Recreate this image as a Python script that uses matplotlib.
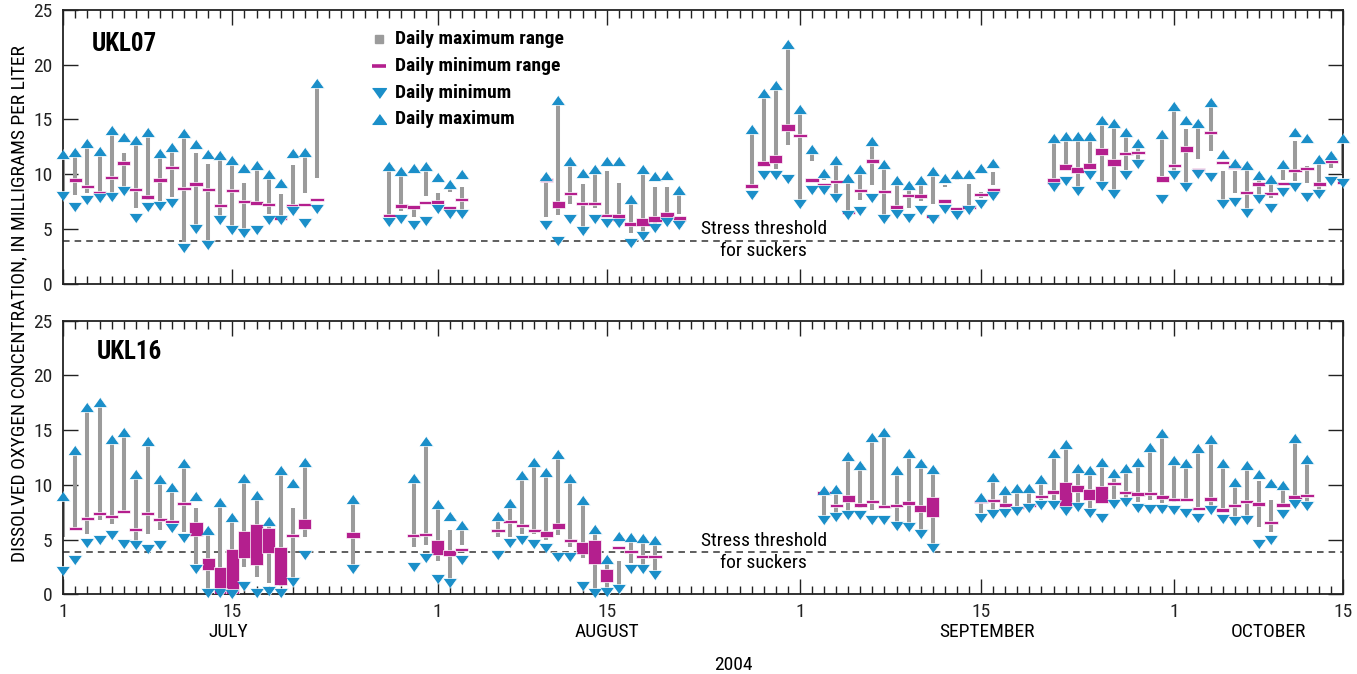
import numpy as np
import matplotlib.pyplot as plt
from matplotlib import font_manager
from matplotlib.transforms import blended_transform_factory

# pick a narrow sans face if one is installed
_names = {f.name for f in font_manager.fontManager.ttflist}
_narrow = [n for n in ['Roboto Condensed', 'Liberation Sans Narrow', 'DejaVu Sans Condensed',
                       'Open Sans Condensed'] if n in _names]
plt.rcParams['font.family'] = _narrow + ['DejaVu Sans']
plt.rcParams['font.stretch'] = 'condensed'

# Day number counted from 1 July 2004
# UKL07: daily max, top/bottom of daily maximum range, top/bottom of daily minimum range, daily min
ukl07_day = [0, 1, 2, 3, 4, 5, 6, 7, 8, 9, 10, 11, 12, 13, 14, 15, 16, 17, 18, 19, 20, 21,
             27, 28, 29, 30, 31, 32, 33,
             40, 41, 42, 43, 44, 45, 46, 47, 48, 49, 50, 51,
             57, 58, 59, 60, 61, 62, 63, 64, 65, 66, 67, 68, 69, 70, 71, 72, 73, 74, 75, 76, 77,
             82, 83, 84, 85, 86, 87, 88, 89,
             91, 92, 93, 94, 95, 96, 97, 98, 99, 100, 101, 102, 103, 104, 105, 106]
ukl07_max = [11.8, 12.0, 12.8, 12.1, 14.05, 13.4, 13.1, 13.8, 11.95, 12.5, 13.75, 12.75, 11.85, 11.7,
             11.25, 10.6, 10.8, 10.05, 9.2, 11.9, 12.0, 18.3,
             10.7, 10.3, 10.55, 10.75, 9.75, 9.1, 10.05,
             9.85, 16.8, 11.15, 10.1, 10.45, 11.15, 11.2, 7.7, 10.45, 9.8, 9.95, 8.55,
             14.1, 17.4, 18.1, 21.85, 15.9, 12.3, 10.1, 11.3, 9.65, 10.45, 13.05, 10.95, 9.45,
             9.05, 9.45, 10.3, 9.65, 10.0, 10.0, 10.6, 11.0,
             13.25, 13.45, 13.45, 13.45, 14.9, 14.7, 13.85, 12.85,
             13.7, 16.2, 14.9, 14.7, 16.6, 11.8, 11.05, 10.85, 9.9, 9.55, 10.95, 13.8, 13.3,
             11.35, 11.7, 13.25]
ukl07_maxrng_hi = [11.5, 11.6, 12.5, 11.8, 13.75, 11.9, 12.8, 13.4, 11.6, 12.1, 13.4, 11.9, 10.9, 11.4,
                   10.9, 9.2, 10.4, 9.7, 8.2, 10.8, 11.6, 17.95,
                   10.3, 9.9, 6.9, 10.3, 8.3, 8.7, 8.8,
                   9.4, 16.4, 10.7, 9.1, 10.1, 10.3, 9.2, 7.25, 9.9, 8.85, 8.8, 8.1,
                   13.65, 16.95, 17.7, 21.45, 15.45, 11.9, 9.7, 10.9, 9.25, 10.0, 12.6, 10.55, 9.05,
                   8.65, 9.05, 9.9, 9.05, 9.6, 9.1, 8.4, 10.15,
                   12.85, 13.1, 13.1, 13.1, 14.5, 14.35, 13.45, 12.45,
                   13.3, 15.8, 14.1, 14.35, 16.25, 10.25, 10.25, 10.4, 9.5, 9.2, 10.4, 13.0, 10.7,
                   11.0, 11.3, 12.85]
ukl07_maxrng_lo = [8.1, 8.1, 8.3, 8.3, 8.1, 8.4, 6.9, 7.6, 7.5, 7.9, 3.8, 5.2, 3.8, 6.1,
                   5.2, 4.9, 7.3, 6.4, 6.0, 7.0, 8.3, 9.6,
                   6.3, 6.6, 6.1, 8.0, 7.2, 8.4, 6.7,
                   6.1, 6.25, 7.3, 5.1, 6.9, 6.25, 6.4, 4.6, 4.6, 5.25, 6.25, 6.4,
                   9.05, 11.0, 10.5, 12.7, 7.3, 11.2, 9.5, 7.9, 6.6, 7.65, 9.05, 6.1, 6.6,
                   6.9, 7.55, 7.25, 8.85, 9.5, 7.1, 7.85, 9.0,
                   9.5, 10.85, 8.55, 10.7, 9.2, 8.4, 10.4, 11.0,
                   9.8, 10.25, 8.85, 11.4, 12.15, 7.35, 8.25, 6.75, 7.95, 7.8, 9.5, 9.35, 9.2,
                   8.55, 10.55, 10.1]
ukl07_minrng_hi = [np.nan, 9.45, 8.9, 8.35, 9.7, 11.0, 8.6, 7.9, 9.45, 10.6, 8.7, 9.1, 8.6, 7.15,
                   8.5, 7.5, 7.35, 7.25, 6.0, 7.15, 7.25, 7.8,
                   6.25, 7.1, 7.0, 7.4, 7.45, 6.9, 7.7,
                   9.6, 7.5, 8.3, 7.3, 7.3, 6.2, 6.4, 5.45, 6.0, 6.15, 6.5, 6.2,
                   9.1, 11.2, 11.7, 14.6, 13.55, 9.45, 9.0, 9.3, 6.5, 8.5, 11.2, 8.55, 7.0,
                   8.05, 8.0, 6.1, 7.55, 6.85, 7.0, 8.15, 8.55,
                   9.6, 10.9, 10.65, 11.05, 12.4, 11.35, 11.85, 12.1,
                   9.8, 10.8, 12.6, 10.4, 13.8, 11.05, 10.65, 8.35, 9.1, 8.25, 9.15, 10.35, 10.5,
                   9.1, 11.15, 9.25]
ukl07_minrng_lo = [np.nan, 9.45, 8.9, 8.35, 9.7, 11.0, 8.6, 7.9, 9.45, 10.6, 8.7, 9.1, 8.6, 7.15,
                   8.5, 7.5, 7.35, 7.25, 6.0, 7.15, 7.25, 7.5,
                   6.25, 7.1, 7.0, 7.4, 7.45, 6.9, 7.7,
                   9.3, 6.9, 8.1, 7.3, 7.3, 6.2, 5.75, 5.45, 5.25, 5.65, 5.9, 5.7,
                   8.75, 10.7, 11.0, 13.9, 13.55, 9.45, 9.0, 9.3, 6.5, 8.5, 11.2, 8.25, 7.0,
                   8.05, 8.0, 6.1, 7.55, 6.85, 7.0, 8.15, 8.55,
                   9.1, 10.4, 10.1, 10.5, 11.75, 10.7, 11.85, 11.9,
                   9.3, 10.8, 12.05, 10.4, 13.8, 11.05, 10.65, 8.35, 9.1, 8.25, 9.15, 10.35, 10.5,
                   9.1, 11.15, 9.25]
ukl07_min = [7.96, 7.0, 7.6, 7.8, 7.95, 8.5, 6.0, 7.0, 7.1, 7.4, 3.3, 5.0, 3.5, 5.8,
             4.9, 4.6, 4.9, 5.8, 5.8, 6.6, 5.5, 6.8,
             5.65, 5.9, 5.4, 5.7, 6.85, 6.4, 6.4,
             5.4, 3.85, 5.9, 4.85, 5.9, 5.5, 5.5, 3.75, 4.35, 5.1, 5.6, 5.4,
             8.1, 9.9, 9.9, 9.55, 7.25, 8.55, 8.55, 7.85, 6.25, 6.65, 7.85, 5.9, 6.4,
             6.0, 6.7, 5.9, 6.85, 6.3, 6.7, 7.25, 8.0,
             8.8, 9.4, 8.5, 9.95, 8.95, 8.15, 9.95, 10.95,
             7.7, 9.95, 8.8, 10.05, 9.7, 7.25, 7.45, 6.45, 7.75, 6.9, 8.4, 8.85, 7.9,
             8.2, 9.35, 9.2]

# UKL16
ukl16_day = [0, 1, 2, 3, 4, 5, 6, 7, 8, 9, 10, 11, 12, 13, 14, 15, 16, 17, 18, 19, 20,
             24,
             29, 30, 31, 32, 33,
             36, 37, 38, 39, 40, 41, 42, 43, 44, 45, 46, 47, 48, 49,
             63, 64, 65, 66, 67, 68, 69, 70, 71, 72,
             76, 77, 78, 79, 80, 81, 82, 83, 84, 85, 86, 87, 88, 89, 90, 91, 92, 93, 94, 95,
             96, 97, 98, 99, 100, 101, 102, 103]
ukl16_max = [8.95, 13.15, 17.1, 17.55, 14.2, 14.85, 10.95, 14.0, 10.5, 9.8, 11.95, 8.95, 5.85, 8.45,
             7.1, 10.65, 9.05, 6.7, 11.35, 10.2, 12.1,
             8.75,
             10.6, 14.0, 8.25, 7.15, 6.3,
             7.15, 8.3, 10.9, 12.1, 11.2, 12.85, 10.6, 8.65, 6.0, 3.2, 5.3, 5.25, 5.1, 5.0,
             9.55, 9.65, 12.65, 11.8, 14.4, 14.8, 11.35, 12.9, 11.95, 11.45,
             8.9, 10.75, 9.5, 9.75, 9.75, 10.5, 12.95, 13.75, 11.5, 11.4, 12.1, 11.05, 11.5, 12.1,
             13.45, 14.75, 12.3, 11.95, 13.4, 14.2,
             11.95, 10.3, 11.8, 10.95, 10.2, 9.95, 14.3, 12.35]
ukl16_maxrng_hi = [8.6, 12.8, 16.75, 17.2, 13.85, 14.45, 10.6, 13.6, 10.1, 9.45, 11.6, 7.85, 5.5, 8.1,
                   6.7, 10.3, 8.7, 6.3, 11.0, 7.85, 11.75,
                   8.4,
                   10.2, 13.6, 7.85, 5.85, 5.9,
                   6.8, 7.95, 10.5, 11.75, 10.8, 12.5, 10.2, 8.3, 5.65, 2.85, 3.05, 4.9, 4.75, 4.65,
                   9.2, 9.25, 12.25, 11.45, 14.0, 14.4, 10.9, 12.5, 11.6, 11.05,
                   8.55, 10.35, 9.15, 9.35, 9.35, 10.15, 12.55, 13.4, 11.1, 11.05, 11.75, 10.65, 11.1,
                   11.75, 13.1, 14.4, 11.95, 11.6, 13.0, 13.85,
                   11.6, 9.9, 11.45, 10.35, 8.6, 9.6, 13.9, 11.95]
ukl16_maxrng_lo = [5.2, 5.85, 5.55, 6.8, 6.4, 7.4, 4.5, 5.55, 5.85, 6.15, 5.7, 2.8, 0.1, 0.1,
                   0.1, 2.5, 1.6, 1.05, 0.8, 1.3, 5.2,
                   2.5,
                   4.35, 4.5, 3.05, 1.3, 4.5,
                   5.2, 5.25, 5.55, 5.55, 4.95, 5.4, 4.35, 3.3, 0.1, 0.4, 0.4, 2.85, 2.5, 2.05,
                   6.95, 7.25, 7.4, 7.85, 7.7, 7.85, 6.5, 6.2, 5.55, 4.2,
                   7.4, 7.55, 7.85, 8.0, 8.3, 8.6, 8.6, 7.85, 8.3, 7.85, 8.3, 8.75, 8.6, 8.45,
                   8.6, 8.3, 8.45, 8.6, 8.0, 7.7,
                   7.85, 7.1, 7.1, 6.15, 5.7, 8.0, 8.45, 8.45]
ukl16_minrng_hi = [np.nan, 6.0, 6.9, 7.4, 7.1, 7.55, 5.95, 7.35, 6.8, 6.65, 8.3, 6.6, 3.35, 2.5,
                   4.1, 5.8, 6.45, 6.1, 4.35, 5.35, 6.85,
                   5.65,
                   5.4, 5.45, 4.95, 4.0, 4.1,
                   5.8, 6.65, 6.3, 5.85, 5.8, 6.5, 4.9, 4.8, 5.0, 2.35, 4.25, 3.9, 3.45, 3.45,
                   9.25, 8.1, 9.05, 8.15, 8.5, 8.0, 8.1, 8.35, 8.15, 8.85,
                   8.45, 8.6, 8.15, 7.95, 8.15, 8.95, 9.35, 10.3, 9.95, 9.6, 9.9, 10.15, 9.3, 9.15,
                   9.2, 8.9, 8.65, 8.65, 7.85, 8.7,
                   7.85, 8.1, 8.5, 8.25, 6.55, 8.15, 8.9, 9.05]
ukl16_minrng_lo = [np.nan, 6.0, 6.9, 7.4, 7.1, 7.55, 5.95, 7.35, 6.8, 6.65, 8.3, 5.3, 2.2, 0.0,
                   0.0, 3.3, 2.7, 3.8, 0.85, 5.35, 5.95,
                   5.15,
                   5.4, 5.45, 3.6, 3.5, 4.1,
                   5.8, 6.65, 6.3, 5.85, 5.25, 6.0, 4.9, 3.65, 2.75, 1.15, 4.25, 3.9, 3.45, 3.45,
                   9.25, 8.1, 8.45, 8.15, 8.5, 8.0, 8.1, 8.35, 7.5, 7.1,
                   8.45, 8.6, 8.15, 7.95, 8.15, 8.95, 9.35, 8.0, 9.3, 8.6, 8.3, 10.15, 9.3, 9.15,
                   9.2, 8.9, 8.65, 8.65, 7.85, 8.7,
                   7.55, 8.1, 8.5, 8.25, 6.55, 8.15, 8.9, 9.05]
ukl16_min = [2.15, 3.15, 4.65, 5.0, 5.45, 4.6, 4.5, 4.1, 4.5, 6.1, 5.15, 2.3, 0.1, 0.1,
             0.0, 0.75, 0.1, 0.3, 0.1, 1.15, 3.6,
             2.3,
             2.45, 3.35, 1.35, 1.0, 3.15,
             3.6, 4.7, 5.0, 4.55, 4.2, 3.45, 3.45, 0.8, 0.15, 0.25, 0.45, 2.35, 2.3, 1.75,
             6.8, 7.1, 7.25, 7.25, 6.8, 6.8, 6.2, 6.15, 5.5, 4.2,
             7.0, 7.3, 7.4, 7.6, 7.85, 8.2, 8.15, 7.65, 7.95, 7.4, 6.95, 8.25, 8.45, 7.85,
             7.75, 7.75, 7.7, 7.4, 6.95, 7.7,
             6.85, 6.65, 6.8, 4.55, 5.0, 7.3, 8.25, 8.1]

stress_threshold = 3.9
major_days = [0, 14, 31, 45, 61, 76, 92, 106]
major_labels = ['1', '15', '1', '15', '1', '15', '1', '15']
months = [('JULY', 13.7), ('AUGUST', 45), ('SEPTEMBER', 76.5), ('OCTOBER', 99.8)]

GRAY = '#9b9b9b'
MAGENTA = '#b41f8e'
BLUE = '#1b8fc9'
TRI_UP = [(-1, -0.7), (1, -0.7), (0, 0.7)]
TRI_DOWN = [(-1, 0.7), (1, 0.7), (0, -0.7)]


def draw_panel(ax, day, dmax, mx_hi, mx_lo, mn_hi, mn_lo, dmin):
    day = np.asarray(day, float)
    mn_hi = np.asarray(mn_hi, float)
    mn_lo = np.asarray(mn_lo, float)
    ax.vlines(day, mx_lo, mx_hi, colors=GRAY, lw=2.9, zorder=2)
    ok = ~np.isnan(mn_hi)
    h = np.maximum(mn_hi[ok] - mn_lo[ok], 0.3)
    mid = (mn_hi[ok] + mn_lo[ok]) / 2
    ax.bar(day[ok], h, bottom=mid - h / 2, width=1.1, color=MAGENTA,
           edgecolor='white', linewidth=0.5, zorder=3)
    ax.plot(day, dmin, ls='none', marker=TRI_DOWN, ms=10, mfc=BLUE, mec='white',
            mew=0.5, zorder=4, clip_on=False)
    ax.plot(day, dmax, ls='none', marker=TRI_UP, ms=10, mfc=BLUE, mec='white',
            mew=0.5, zorder=4, clip_on=False)
    ax.axhline(stress_threshold, color='#333333', lw=1.1, ls=(0, (4.3, 3.3)), zorder=1)

    ax.set_xlim(0, 106)
    ax.set_ylim(0, 25)
    ax.set_xticks(major_days)
    ax.set_xticks(np.arange(0, 107), minor=True)
    ax.set_yticks(np.arange(0, 26, 5))
    ax.tick_params(axis='x', which='major', direction='in', top=True, bottom=True,
                   length=11, width=1.0, labelsize=14, pad=6, colors='#222222')
    ax.tick_params(axis='x', which='minor', direction='in', top=True, bottom=True,
                   length=5.5, width=1.0, colors='#222222')
    ax.tick_params(axis='y', which='major', direction='in', left=True, right=True,
                   length=10.5, width=1.0, labelsize=14, pad=8, colors='#222222')
    for s in ax.spines.values():
        s.set_linewidth(1.3)
        s.set_color('#222222')


fig = plt.figure(figsize=(13.57, 6.74), dpi=100)
ax1 = fig.add_axes([0.04665, 0.5791, 0.9433, 0.4065])
ax2 = fig.add_axes([0.04665, 0.1183, 0.9433, 0.4059])

draw_panel(ax1, ukl07_day, ukl07_max, ukl07_maxrng_hi, ukl07_maxrng_lo,
           ukl07_minrng_hi, ukl07_minrng_lo, ukl07_min)
draw_panel(ax2, ukl16_day, ukl16_max, ukl16_maxrng_hi, ukl16_maxrng_lo,
           ukl16_minrng_hi, ukl16_minrng_lo, ukl16_min)

ax1.tick_params(axis='x', labelbottom=False)
ax2.set_xticklabels(major_labels)

ax1.text(0.0224, 0.875, 'UKL07', transform=ax1.transAxes, fontsize=18,
         fontweight='bold', va='center', ha='left')
ax2.text(0.0263, 0.887, 'UKL16', transform=ax2.transAxes, fontsize=18,
         fontweight='bold', va='center', ha='left')

# threshold annotation
for ax, y_hi, y_lo in [(ax1, 5.0, 3.0), (ax2, 4.9, 2.85)]:
    ax.text(58, y_hi, 'Stress threshold', fontsize=14, ha='center', va='center')
    ax.text(58, y_lo, 'for suckers', fontsize=14, ha='center', va='center')

# legend
leg_x, txt_x = 0.247, 0.259
rows = [0.892, 0.793, 0.696, 0.601]
ax1.plot(leg_x, rows[0], marker='s', ms=6, color=GRAY, transform=ax1.transAxes, clip_on=False)
ax1.plot(leg_x, rows[1], marker='_', ms=10, mew=2.6, color=MAGENTA, transform=ax1.transAxes,
         clip_on=False)
ax1.plot(leg_x, rows[2], marker=TRI_DOWN, ms=10, color=BLUE, transform=ax1.transAxes,
         clip_on=False)
ax1.plot(leg_x, rows[3], marker=TRI_UP, ms=10, color=BLUE, transform=ax1.transAxes,
         clip_on=False)
for y, lab in zip(rows, ['Daily maximum range', 'Daily minimum range',
                         'Daily minimum', 'Daily maximum']):
    ax1.text(txt_x, y, lab, transform=ax1.transAxes, fontsize=14, fontweight='bold',
             va='center', ha='left')

# month and year labels
trans = blended_transform_factory(ax2.transData, ax2.transAxes)
for name, xpos in months:
    ax2.text(xpos, -0.138, name, transform=trans, fontsize=14, ha='center', va='center')
ax2.text(55.5, -0.258, '2004', transform=trans, fontsize=14, ha='center', va='center')

fig.text(0.0144, 0.5497, 'DISSOLVED OXYGEN CONCENTRATION, IN MILLIGRAMS PER LITER',
         rotation=90, fontsize=14, ha='center', va='center')

fig.savefig('out.png', dpi=100)
